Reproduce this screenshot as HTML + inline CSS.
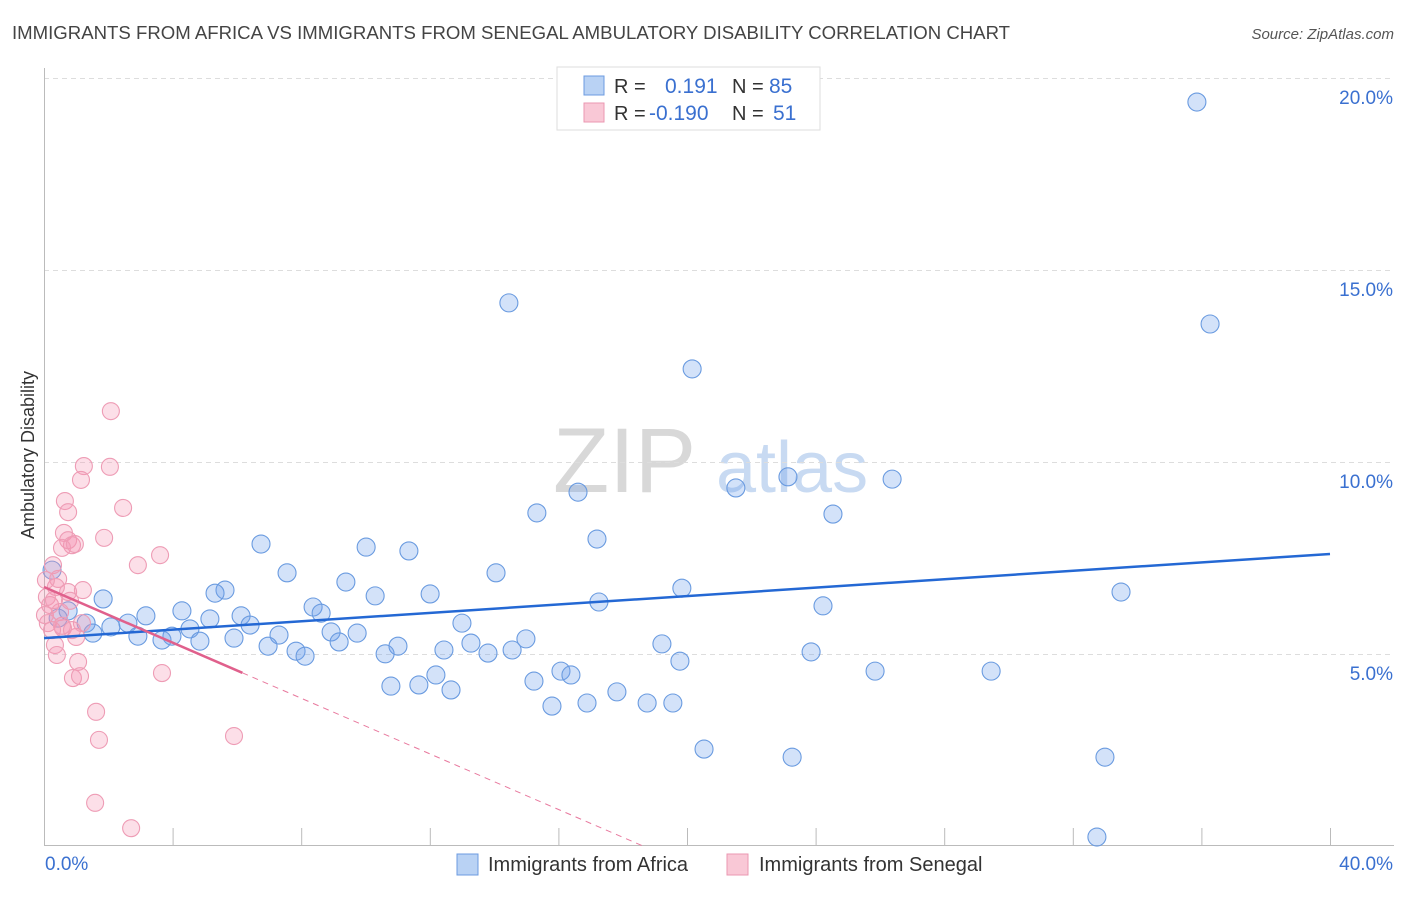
<!DOCTYPE html>
<html><head><meta charset="utf-8"><style>
body{margin:0;background:#fff;font-family:"Liberation Sans",sans-serif;}
svg text{font-family:"Liberation Sans",sans-serif;}
</style></head><body>
<svg id="chart" width="1406" height="892" xmlns="http://www.w3.org/2000/svg">
<text x="12" y="39" font-size="18.6" fill="#444">IMMIGRANTS FROM AFRICA VS IMMIGRANTS FROM SENEGAL AMBULATORY DISABILITY CORRELATION CHART</text>
<text x="1394" y="39" font-size="15" fill="#555" font-style="italic" text-anchor="end">Source: ZipAtlas.com</text>
<text transform="translate(34,455) rotate(-90)" font-size="18" fill="#333" text-anchor="middle">Ambulatory Disability</text>
<g>
<text x="553" y="492" font-family="Liberation Serif,serif" font-size="92" fill="#d8d8d8">ZIP</text>
<text x="716" y="492" font-size="72" fill="#c8daf2">atlas</text>
</g>
<g id="grid"></g>
<g id="axes"></g>
<g id="pts"></g>
<g id="trend"></g>
<g>
<rect x="557" y="67" width="263" height="63" fill="#fff" stroke="#ddd"/>
<rect x="584" y="76" width="20" height="19" fill="#b9d2f4" stroke="#6c9be0"/>
<rect x="584" y="103" width="20" height="19" fill="#f9c8d6" stroke="#eb97b1"/>
<text x="614" y="93" font-size="20" fill="#333">R =</text>
<text x="665" y="93" font-size="21" fill="#3a70d0">0.191</text>
<text x="732" y="93" font-size="20" fill="#333">N =</text>
<text x="769" y="93" font-size="21" fill="#3a70d0">85</text>
<text x="614" y="120" font-size="20" fill="#333">R =</text>
<text x="649" y="120" font-size="21" fill="#3a70d0">-0.190</text>
<text x="732" y="120" font-size="20" fill="#333">N =</text>
<text x="773" y="120" font-size="21" fill="#3a70d0">51</text>
</g>
<g>
<rect x="457" y="854" width="21" height="21" fill="#b9d2f4" stroke="#6c9be0"/>
<text x="488" y="871" font-size="20" fill="#333">Immigrants from Africa</text>
<rect x="727" y="854" width="21" height="21" fill="#f9c8d6" stroke="#eb97b1"/>
<text x="759" y="871" font-size="20" fill="#333">Immigrants from Senegal</text>
</g>
</svg>
<script>
const yTicks=[5,10,15,20];
const yTickLabels=["5.0%","10.0%","15.0%","20.0%"];
const xTickVals=[0,4,8,12,16,20,24,28,32,36,40];
const africaX=[35.86,14.46,36.27,20.16,16.61,21.52,23.14,26.38,15.33,24.54,17.20,6.75,10.02,11.35,7.56,14.06,9.39,5.63,5.32,10.30,12.01,19.84,33.50,17.26,8.37,1.84,4.29,3.17,8.62,6.13,5.16,24.23,13.00,2.61,1.31,0.75,0.44,2.08,6.41,4.54,7.31,8.93,9.74,14.99,3.98,2.92,1.52,5.91,3.67,4.85,6.97,9.18,13.28,11.01,7.84,12.44,19.22,14.56,13.81,23.86,8.12,10.61,19.78,16.08,16.39,12.19,25.85,29.46,15.24,10.79,11.66,12.66,17.82,15.80,16.89,18.76,19.56,20.53,23.27,33.00,32.75,0.25];
const africaY=[19.40,14.17,13.62,12.45,9.24,9.35,9.64,9.58,8.70,8.67,8.02,7.89,7.81,7.71,7.14,7.14,6.90,6.69,6.61,6.54,6.59,6.74,6.64,6.38,6.25,6.46,6.15,6.02,6.09,6.02,5.94,6.28,5.83,5.83,5.83,6.15,5.96,5.73,5.78,5.68,5.52,5.60,5.57,5.42,5.49,5.49,5.57,5.44,5.39,5.36,5.23,5.34,5.31,5.23,5.10,5.13,5.29,5.13,5.05,5.08,4.97,5.03,4.84,4.58,4.48,4.48,4.58,4.58,4.32,4.19,4.22,4.09,4.04,3.67,3.75,3.75,3.75,2.55,2.34,2.34,0.26,7.21];
const senegalX=[2.08,1.24,2.05,1.15,0.65,0.75,2.46,1.87,3.61,0.62,0.75,0.87,0.56,0.96,2.92,0.28,0.44,0.37,0.75,1.21,0.09,0.81,0.19,0.50,0.12,0.59,1.00,0.34,0.40,1.06,0.90,1.12,3.67,1.62,1.71,5.91,1.59,2.71,0.25,0.06,0.31,0.56,1.18,0.03,0.87];
const senegalY=[11.35,9.92,9.90,9.56,9.01,8.72,8.83,8.05,7.60,8.18,7.99,7.86,7.79,7.89,7.34,7.34,6.98,6.77,6.64,6.69,6.51,6.41,6.30,6.12,5.83,5.70,5.47,5.26,5.00,4.82,4.40,4.45,4.53,3.52,2.79,2.89,1.15,0.49,5.65,6.95,6.43,5.76,5.83,6.04,5.65];
const africaTrend=[5.44,0.05475];
const senegalTrend=[6.77,-0.362];
const senegalSolidEnd=6.17;

const NS="http://www.w3.org/2000/svg";
const sx=v=>44+v*32.15, sy=v=>847-v*38.4;
function mk(tag,attrs,parent){const e=document.createElementNS(NS,tag);for(const k in attrs)e.setAttribute(k,attrs[k]);parent.appendChild(e);return e;}
const gridG=document.getElementById('grid'),axesG=document.getElementById('axes'),ptsG=document.getElementById('pts'),trendG=document.getElementById('trend');
yTicks.forEach((t,i)=>{
  const l=mk('line',{x1:44,x2:1394,y1:sy(t)-0.5,y2:sy(t)-0.5,stroke:'#ddd','stroke-dasharray':'5,4'},gridG);
  
  
  const tx=mk('text',{x:1393,y:sy(t)+25,'font-size':19,fill:'#3a70d0','text-anchor':'end'},axesG);
  tx.textContent=yTickLabels[i];
  
  
});
const ya=mk('line',{x1:44.5,x2:44.5,y1:68,y2:845,stroke:'#bbb'},axesG);


const xa=mk('line',{x1:44,x2:1394,y1:845.5,y2:845.5,stroke:'#bbb'},axesG);


xTickVals.forEach(v=>{
  const t=mk('line',{x1:sx(v)+0.5,x2:sx(v)+0.5,y1:828,y2:845,stroke:'#bbb'},axesG);
  
  
});
const xl0=mk('text',{x:45,y:870,'font-size':19,fill:'#3a70d0'},axesG);xl0.textContent='0.0%';


const xl1=mk('text',{x:1393,y:870,'font-size':19,fill:'#3a70d0','text-anchor':'end'},axesG);xl1.textContent='40.0%';


africaX.forEach((x,i)=>{
  const c=mk('circle',{cx:sx(x),cy:sy(africaY[i]),r:9,fill:'rgba(110,160,235,0.3)',stroke:'#6a9be0','stroke-width':1.1},ptsG);
  
  
});
senegalX.forEach((x,i)=>{
  const c=mk('circle',{cx:sx(x),cy:sy(senegalY[i]),r:8.5,fill:'rgba(245,150,180,0.3)',stroke:'#ee9cb5','stroke-width':1.1},ptsG);
  
  
});
const bl=mk('line',{x1:sx(0),y1:sy(africaTrend[0]),x2:sx(40),y2:sy(africaTrend[0]+40*africaTrend[1]),stroke:'#2468d4','stroke-width':2.5},trendG);


const xz=-senegalTrend[0]/senegalTrend[1];
const pd=mk('line',{x1:sx(senegalSolidEnd),y1:sy(senegalTrend[0]+senegalSolidEnd*senegalTrend[1]),x2:sx(xz),y2:sy(0),stroke:'#e8799e','stroke-width':1,'stroke-dasharray':'6,5'},trendG);


const pl=mk('line',{x1:sx(0),y1:sy(senegalTrend[0]),x2:sx(senegalSolidEnd),y2:sy(senegalTrend[0]+senegalSolidEnd*senegalTrend[1]),stroke:'#e0608c','stroke-width':2.5},trendG);


</script>
</body></html>
